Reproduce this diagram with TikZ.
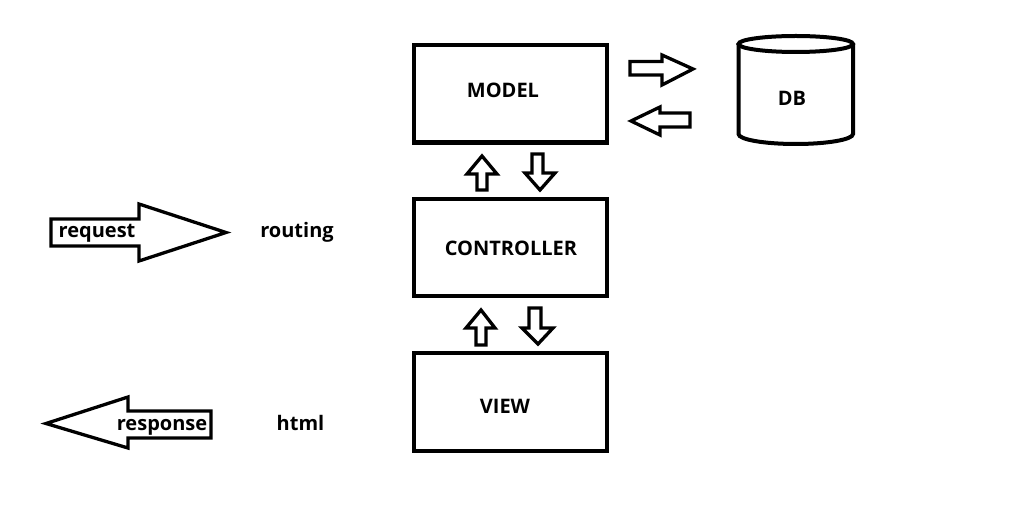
\documentclass[tikz,border=0pt]{standalone}
\usepackage{fontspec}
\setmainfont{Open Sans}
\begin{document}
\begin{tikzpicture}[x=1pt,y=-1pt,
  box/.style={draw,line width=4.5pt},
  blockarrow/.style={draw,line width=3.3pt,line join=miter},
  lbl/.style={font=\fontsize{20}{22}\selectfont\bfseries,inner sep=0pt,anchor=base}]
\useasboundingbox (0,0) rectangle (1022,521);
% boxes
\draw[box] (414,45) rectangle (607,142.5);
\draw[box] (414,199) rectangle (607,296);
\draw[box] (414,353) rectangle (607,451);
\node[lbl] (model) at (503,97.5) {MODEL};
\node[lbl] (controller) at (511,255) {CONTROLLER};
\node[lbl] (view) at (505,413) {VIEW};
% DB cylinder
\draw[line width=4pt] (738.5,44) -- (738.5,134) arc[start angle=180,end angle=360,x radius=57.25pt,y radius=10pt] -- (853,44);
\draw[line width=4pt] (795.75,44) ellipse[x radius=57.25pt,y radius=8pt];
\node[lbl] (db) at (792,105.5) {DB};
% arrows model <-> db
\draw[blockarrow] (630,61.5) -- (662,61.5) -- (662,55) -- (693,69) -- (662,85) -- (662,75) -- (630,75) -- cycle;
\draw[blockarrow] (690,113) -- (660,113) -- (660,107) -- (631,121) -- (660,135) -- (660,127) -- (690,127) -- cycle;
% arrows model <-> controller
\draw[blockarrow] (477,190) -- (477,174) -- (467,174) -- (482,156) -- (497,174) -- (487,174) -- (487,190) -- cycle;
\draw[blockarrow] (532,154) -- (532,173) -- (525,173) -- (540,190) -- (555,173) -- (543,173) -- (543,154) -- cycle;
% arrows controller <-> view
\draw[blockarrow] (476,345) -- (476,328) -- (466,328) -- (481,310) -- (495,328) -- (486,328) -- (486,345) -- cycle;
\draw[blockarrow] (529,308) -- (529,328) -- (522,328) -- (538,344) -- (553,328) -- (541,328) -- (541,308) -- cycle;
% request / response
\draw[blockarrow] (51,219) -- (139,219) -- (139,204) -- (226,232.5) -- (139,261) -- (139,246) -- (51,246) -- cycle;
\node[lbl] (request) at (97,237.5) {request};
\node[lbl] (routing) at (297,237.5) {routing};
\draw[blockarrow] (211,411) -- (128,411) -- (128,397) -- (46,423.5) -- (128,448) -- (128,438) -- (211,438) -- cycle;
\node[lbl] (response) at (162,430) {response};
\node[lbl] (html) at (300.5,430) {html};
\end{tikzpicture}
\end{document}
